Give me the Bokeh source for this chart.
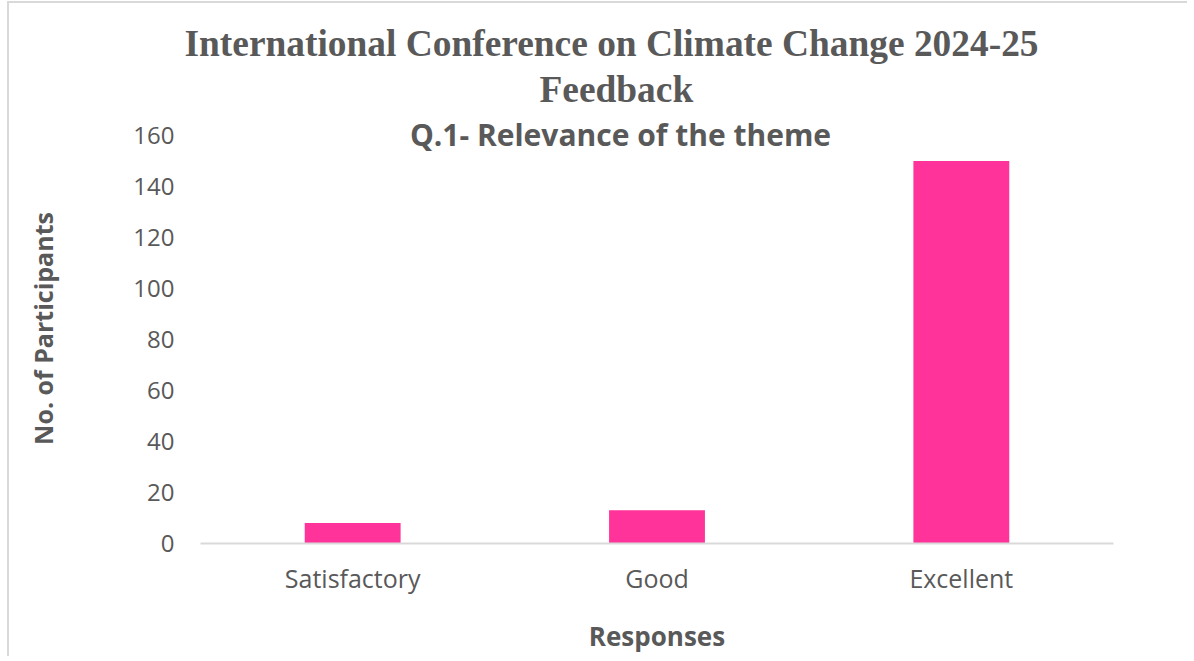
from bokeh.plotting import figure
from bokeh.models import ColumnDataSource, FactorRange, Range1d, FixedTicker, Label, Title
from bokeh.embed import file_html
from bokeh.resources import INLINE

categories = ["Satisfactory", "Good", "Excellent"]
participants = [8, 13, 150]
y_ticks = [0, 20, 40, 60, 80, 100, 120, 140, 160]
title_line1 = "International Conference on Climate Change 2024-25"
title_line2 = "Feedback"
subtitle = "Q.1- Relevance of the theme"
x_label = "Responses"
y_label = "No. of Participants"

TEXT = "#595959"
BAR = "#FF3399"
AXIS = "#D9D9D9"

src = ColumnDataSource(dict(cat=categories, val=participants))

p = figure(
    x_range=FactorRange(*categories, range_padding=0),
    y_range=Range1d(0, 168.63),
    width=1180, height=655,
    output_backend="svg", toolbar_location=None,
    min_border_left=191, min_border_right=76,
    min_border_top=110, min_border_bottom=115,
)
p.styles = {"margin-left": "7px", "margin-top": "1px",
            "border-left": "2px solid #D9D9D9", "border-top": "2px solid #D9D9D9"}

p.vbar(x="cat", top="val", width=0.315, source=src, fill_color=BAR, line_color=None)

p.xgrid.visible = False
p.ygrid.visible = False
p.outline_line_color = None
p.background_fill_color = "white"
p.border_fill_color = "white"

xa = p.xaxis[0]
xa.axis_line_color = AXIS
xa.axis_line_width = 2
xa.major_tick_line_color = None
xa.minor_tick_line_color = None
xa.major_tick_out = 0
xa.major_tick_in = 0
xa.major_label_text_font = "Open Sans"
xa.major_label_text_font_size = "25px"
xa.major_label_text_color = TEXT
xa.major_label_standoff = 17
xa.axis_label = x_label
xa.axis_label_text_font = "Open Sans"
xa.axis_label_text_font_style = "bold"
xa.axis_label_text_font_size = "26px"
xa.axis_label_text_color = TEXT
xa.axis_label_standoff = 20

ya = p.yaxis[0]
ya.ticker = FixedTicker(ticks=y_ticks)
ya.axis_line_color = None
ya.major_tick_line_color = None
ya.minor_tick_line_color = None
ya.major_tick_out = 0
ya.major_tick_in = 0
ya.major_label_text_font = "Open Sans"
ya.major_label_text_font_size = "24px"
ya.major_label_text_color = TEXT
ya.major_label_standoff = 26
ya.axis_label = y_label
ya.axis_label_text_font = "Open Sans"
ya.axis_label_text_font_style = "bold"
ya.axis_label_text_font_size = "25px"
ya.axis_label_text_color = TEXT
ya.axis_label_standoff = 70

# titles stack outward from the frame: first added is nearest
p.add_layout(Title(text=title_line2, align="left", offset=339, standoff=7,
                   text_font="Liberation Serif", text_font_style="bold",
                   text_font_size="37.4px", text_color=TEXT), "above")
p.add_layout(Title(text=title_line1, align="left", offset=-16, standoff=0,
                   text_font="Liberation Serif", text_font_style="bold",
                   text_font_size="37.4px", text_color=TEXT), "above")

p.add_layout(Label(x=1.38, y=160.2, text=subtitle, text_align="center", text_baseline="alphabetic",
                   text_font="Open Sans", text_font_style="bold",
                   text_font_size="30px", text_color=TEXT))

open("out.html", "w").write(file_html(p, INLINE))
